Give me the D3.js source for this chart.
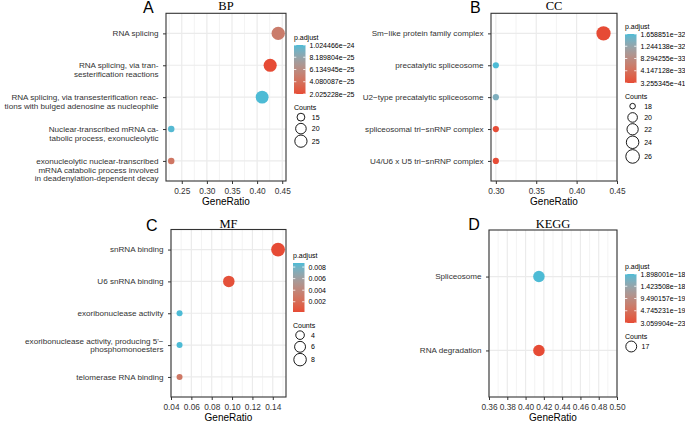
<!DOCTYPE html>
<html><head><meta charset="utf-8">
<script src="https://cdn.jsdelivr.net/npm/d3@7"></script>
<style>body{margin:0;background:#fff}svg{display:block}</style>
</head><body>
<svg id="chart" width="685" height="422"></svg>
<script>
// ---------------- DATA ----------------
// A: BP
const bpTerms = [
  "RNA splicing",
  "RNA splicing, via tran-\nsesterification reactions",
  "RNA splicing, via transesterification reac-\ntions with bulged adenosine as nucleophile",
  "Nuclear-transcribed mRNA ca-\ntabolic process, exonucleolytic",
  "exonucleolytic nuclear-transcribed\nmRNA catabolic process involved\nin deadenylation-dependent decay"
];
const bpRatio = [0.442, 0.426, 0.410, 0.229, 0.229];
const bpCount = [27, 26, 25, 14, 14];
const bpPadj = [4.9e-25, 2.025228e-25, 1.024466e-24, 1.01e-24, 4.5e-25];
const bpXTicks = [0.25, 0.30, 0.35, 0.40, 0.45];
const bpPadjBreaks = [1.024466e-24, 8.189804e-25, 6.134945e-25, 4.080087e-25, 2.025228e-25];
const bpCountBreaks = [15, 20, 25];

// B: CC
const ccTerms = [
  "Sm\u2212like protein family complex",
  "precatalytic spliceosome",
  "U2\u2212type precatalytic spliceosome",
  "spliceosomal tri\u2212snRNP complex",
  "U4/U6 x U5 tri\u2212snRNP complex"
];
const ccRatio = [0.4333, 0.30, 0.30, 0.30, 0.30];
const ccCount = [26, 18, 18, 18, 18];
const ccPadj = [3.255345e-41, 1.658851e-32, 1.42e-32, 1.2e-34, 1.2e-34];
const ccXTicks = [0.30, 0.35, 0.40, 0.45];
const ccPadjBreaks = [1.658851e-32, 1.244138e-32, 8.294255e-33, 4.147128e-33, 3.255345e-41];
const ccCountBreaks = [18, 20, 22, 24, 26];

// C: MF
const mfTerms = [
  "snRNA binding",
  "U6 snRNA binding",
  "exoribonuclease activity",
  "exoribonuclease activity, producing 5'\u2212\nphosphomonoesters",
  "telomerase RNA binding"
];
const mfRatio = [0.1452, 0.0968, 0.0484, 0.0484, 0.0484];
const mfCount = [9, 6, 3, 3, 3];
const mfPadj = [0.00023, 0.0005, 0.0087, 0.0087, 0.0028];
const mfXTicks = [0.04, 0.06, 0.08, 0.10, 0.12, 0.14];
const mfPadjBreaks = [0.008, 0.006, 0.004, 0.002];
const mfCountBreaks = [4, 6, 8];

// D: KEGG
const keggTerms = ["Spliceosome", "RNA degradation"];
const keggRatio = [0.4146, 0.4146];
const keggCount = [17, 17];
const keggPadj = [1.898001e-18, 3.059904e-23];
const keggXTicks = [0.36, 0.38, 0.40, 0.42, 0.44, 0.46, 0.48, 0.50];
const keggPadjBreaks = [1.898001e-18, 1.423508e-18, 9.490157e-19, 4.745231e-19, 3.059904e-23];
const keggCountBreaks = [17];

// ---------------- STYLE / LAYOUT ----------------
const LOW = "#E64B35", HIGH = "#4DBBD5";
const SANS = "'Liberation Sans', Arial, Helvetica, sans-serif";
const SERIF = "'Liberation Serif', 'Times New Roman', serif";
const TXT = "#333";
const svg = d3.select("#chart");
const expFmt = d => d.toExponential(6).replace("-", "\u2212");
const decFmt = d3.format(".3f");

const panels = [
  { letter: "A", letterXY: [143, 13.3], title: "BP", titleY: 9.5,
    terms: bpTerms, ratio: bpRatio, count: bpCount, padj: bpPadj,
    xTicks: bpXTicks, xDomain: [0.2186, 0.4575], rect: [166, 13.3, 286, 181],
    labelMode: "top", padjBreaks: bpPadjBreaks, padjFmt: expFmt,
    countBreaks: bpCountBreaks, sizeRange: [6.5, 13.4],
    legend: [294, 45] },
  { letter: "B", letterXY: [470, 13.3], title: "CC", titleY: 9.5,
    terms: ccTerms, ratio: ccRatio, count: ccCount, padj: ccPadj,
    xTicks: ccXTicks, xDomain: [0.2940, 0.4500], rect: [491, 13.3, 617, 181],
    labelMode: "center", padjBreaks: ccPadjBreaks, padjFmt: expFmt,
    countBreaks: ccCountBreaks, sizeRange: [6.2, 14.2],
    legend: [625, 34] },
  { letter: "C", letterXY: [146, 230.5], title: "MF", titleY: 228.3,
    terms: mfTerms, ratio: mfRatio, count: mfCount, padj: mfPadj,
    xTicks: mfXTicks, xDomain: [0.0400, 0.1530], rect: [171, 229.5, 286, 397],
    labelMode: "center", padjBreaks: mfPadjBreaks, padjFmt: decFmt,
    padjDomain: [0.00023, 0.0087],
    countBreaks: mfCountBreaks, sizeRange: [6.0, 13.8],
    legend: [293, 263] },
  { letter: "D", letterXY: [468.3, 230.3], title: "KEGG", titleY: 228.3,
    terms: keggTerms, ratio: keggRatio, count: keggCount, padj: keggPadj,
    xTicks: keggXTicks, xDomain: [0.36, 0.50], rect: [489, 230, 617, 397],
    labelMode: "center", padjBreaks: keggPadjBreaks, padjFmt: expFmt,
    countBreaks: keggCountBreaks, sizeRange: [11.5, 11.5],
    legend: [625, 274] }
];

let gradId = 0;
function drawPanel(p) {
  const [x0, y0, x1, y1] = p.rect;
  const g = svg.append("g");
  const x = d3.scaleLinear().domain(p.xDomain).range([x0, x1]);
  const y = d3.scalePoint().domain(p.terms).range([y0, y1]).padding(0.63);
  const padjDomain = p.padjDomain || d3.extent(p.padj);
  const color = d3.scaleLinear().domain(padjDomain).range([LOW, HIGH])
    .interpolate(d3.interpolateLab).clamp(true);
  const cDom = d3.extent(p.count);
  const tS = d3.scaleLinear().domain(cDom).range([0, 1]).clamp(true);
  const dS = d3.scaleSqrt().domain([0, 1]).range(p.sizeRange);
  const diam = v => dS(tS(v));

  g.append("rect").attr("x", x0).attr("y", y0).attr("width", x1 - x0).attr("height", y1 - y0).attr("fill", "#fff");

  // minor gridlines: midpoints between major ticks (inside the panel)
  const step = p.xTicks[1] - p.xTicks[0];
  const minor = [];
  for (let v = p.xTicks[0] - step / 2; v <= p.xDomain[1] + 1e-9; v += step) {
    if (v >= p.xDomain[0] - 1e-9) minor.push(v);
  }
  g.selectAll(".minor").data(minor).enter().append("line")
    .attr("x1", d => x(d)).attr("x2", d => x(d)).attr("y1", y0).attr("y2", y1)
    .attr("stroke", "#EBEBEB").attr("stroke-width", 0.6);
  g.selectAll(".majorx").data(p.xTicks).enter().append("line")
    .attr("x1", d => x(d)).attr("x2", d => x(d)).attr("y1", y0).attr("y2", y1)
    .attr("stroke", "#EBEBEB").attr("stroke-width", 1.2);
  g.selectAll(".majory").data(p.terms).enter().append("line")
    .attr("x1", x0).attr("x2", x1).attr("y1", d => y(d)).attr("y2", d => y(d))
    .attr("stroke", "#EBEBEB").attr("stroke-width", 1.2);

  g.selectAll(".pt").data(p.terms.map((t, i) => i)).enter().append("circle")
    .attr("cx", i => x(p.ratio[i])).attr("cy", i => y(p.terms[i]))
    .attr("r", i => diam(p.count[i]) / 2)
    .attr("fill", i => color(p.padj[i]));

  g.append("rect").attr("x", x0).attr("y", y0).attr("width", x1 - x0).attr("height", y1 - y0)
    .attr("fill", "none").attr("stroke", "#333").attr("stroke-width", 1.1);

  const xa = g.append("g").attr("transform", `translate(0,${y1})`)
    .call(d3.axisBottom(x).tickValues(p.xTicks).tickSize(3).tickPadding(4.5).tickFormat(d3.format(".2f")));
  xa.select(".domain").remove();
  xa.selectAll(".tick line").attr("stroke", "#333").attr("stroke-width", 1);
  xa.selectAll(".tick text").attr("font-family", SANS).attr("font-size", 8.3).attr("fill", TXT);

  const ya = g.append("g").attr("transform", `translate(${x0},0)`)
    .call(d3.axisLeft(y).tickSize(3).tickFormat(""));
  ya.select(".domain").remove();
  ya.selectAll(".tick line").attr("stroke", "#333").attr("stroke-width", 1);

  const fs = 8.1, lh = 8.8;
  p.terms.forEach(t => {
    const lines = t.split("\n");
    const cy = y(t);
    const firstCenter = p.labelMode === "top" ? cy : cy - (lines.length - 1) * lh / 2;
    const tx = g.append("text").attr("font-family", SANS).attr("font-size", fs)
      .attr("fill", TXT).attr("text-anchor", "end");
    lines.forEach((ln, k) => {
      tx.append("tspan").attr("x", x0 - 7.5).attr("y", firstCenter + k * lh + fs * 0.35).text(ln);
    });
  });

  g.append("text").attr("x", (x0 + x1) / 2).attr("y", y1 + 23.5).attr("text-anchor", "middle")
    .attr("font-family", SANS).attr("font-size", 10).attr("fill", "#000").text("GeneRatio");

  g.append("text").attr("x", (x0 + x1) / 2).attr("y", p.titleY).attr("text-anchor", "middle")
    .attr("font-family", SERIF).attr("font-size", 12.5).attr("fill", "#000").text(p.title);
  g.append("text").attr("x", p.letterXY[0]).attr("y", p.letterXY[1])
    .attr("font-family", SANS).attr("font-size", 16).attr("fill", "#000").text(p.letter);

  // ---- legend ----
  const [lx, barTop] = p.legend;
  const barH = 49, barW = 11.5;
  const cy = d3.scaleLinear().domain(padjDomain).range([barTop + barH, barTop]);
  const id = "grad" + (gradId++);
  const grad = svg.append("defs").append("linearGradient").attr("id", id)
    .attr("x1", 0).attr("y1", 1).attr("x2", 0).attr("y2", 0);
  d3.range(0, 21).forEach(k => {
    const v = padjDomain[0] + (padjDomain[1] - padjDomain[0]) * k / 20;
    grad.append("stop").attr("offset", k / 20).attr("stop-color", color(v));
  });
  g.append("rect").attr("x", lx).attr("y", barTop).attr("width", barW).attr("height", barH)
    .attr("fill", `url(#${id})`);
  p.padjBreaks.forEach(b => {
    const by = cy(b);
    g.append("line").attr("x1", lx).attr("x2", lx + 2.3).attr("y1", by).attr("y2", by)
      .attr("stroke", "#fff").attr("stroke-width", 0.8);
    g.append("line").attr("x1", lx + barW - 2.3).attr("x2", lx + barW).attr("y1", by).attr("y2", by)
      .attr("stroke", "#fff").attr("stroke-width", 0.8);
    g.append("text").attr("x", lx + barW + 4).attr("y", by + 2.5).attr("font-family", SANS)
      .attr("font-size", 7).attr("fill", "#000").text(p.padjFmt(b));
  });
  g.append("text").attr("x", lx).attr("y", barTop - 5).attr("font-family", SANS)
    .attr("font-size", 7).attr("fill", "#000").text("p.adjust");
  const countsY = barTop + barH + 15.5;
  g.append("text").attr("x", lx).attr("y", countsY).attr("font-family", SANS)
    .attr("font-size", 7).attr("fill", "#000").text("Counts");
  const maxD = d3.max(p.countBreaks, diam);
  const keyW = Math.max(10, maxD + 1);
  let cur = countsY + 2;
  p.countBreaks.forEach(b => {
    const d = diam(b);
    const kh = Math.max(11.3, d + 0.5);
    const ccy = cur + kh / 2;
    g.append("circle").attr("cx", lx + keyW / 2).attr("cy", ccy).attr("r", d / 2 - 0.3)
      .attr("fill", "none").attr("stroke", "#000").attr("stroke-width", 0.9);
    g.append("text").attr("x", lx + keyW + 4).attr("y", ccy + 2.5).attr("font-family", SANS)
      .attr("font-size", 7).attr("fill", "#000").text(b);
    cur += kh;
  });
}

panels.forEach(drawPanel);
</script>
</body></html>
